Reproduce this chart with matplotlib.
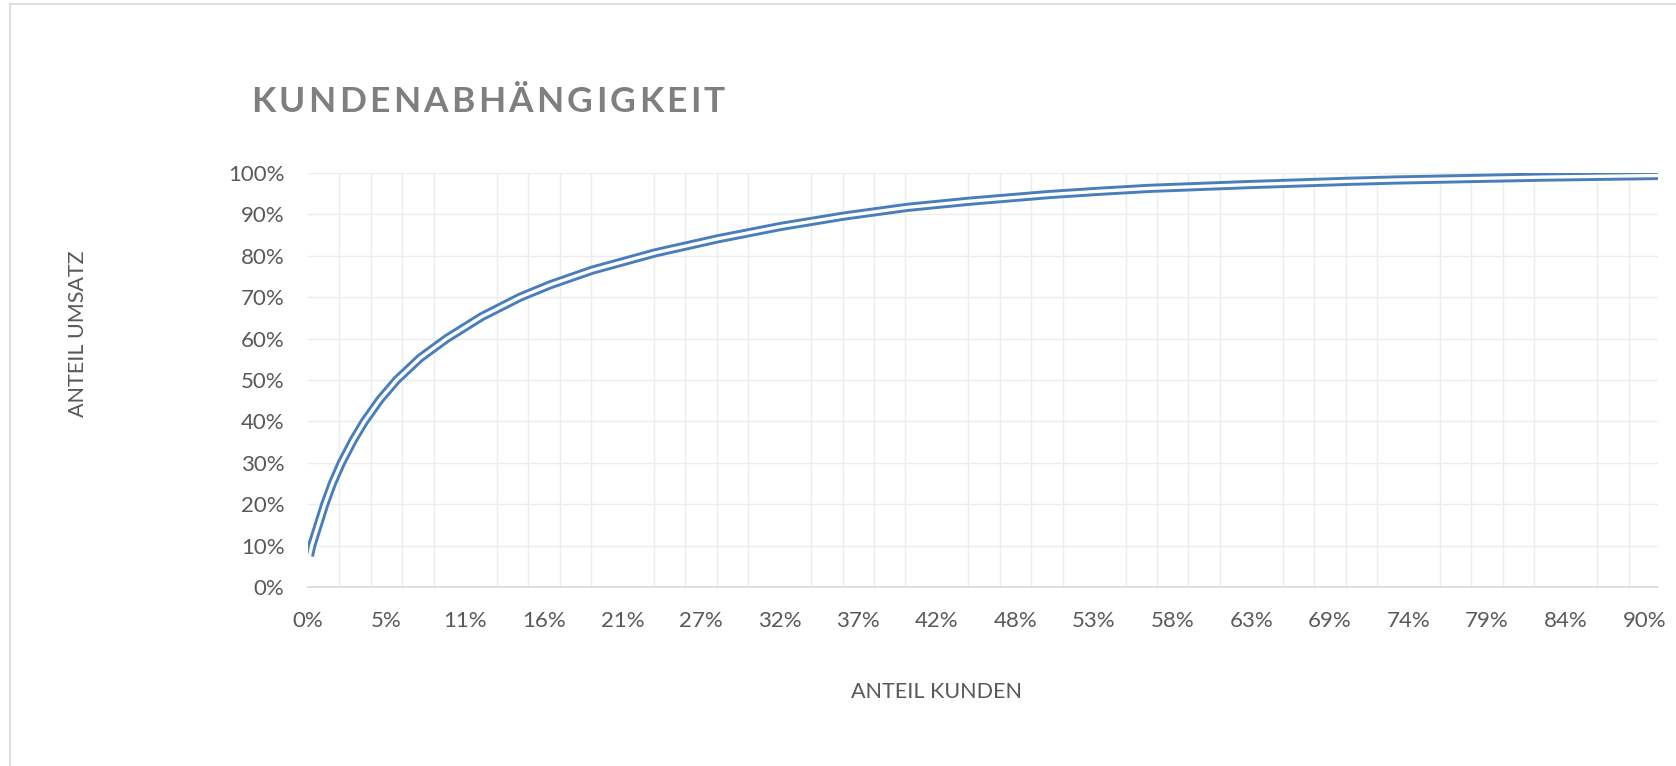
import matplotlib
matplotlib.use('Agg')
import numpy as np
import matplotlib.pyplot as plt
from matplotlib.lines import Line2D

# Anteil Kunden (%) -> Anteil Umsatz (%)
kunden = [0.1, 0.25, 1.13, 1.64, 2.25, 3.05, 3.8, 4.85, 5.97, 7.54, 9.33,
          11.69, 14.27, 16.3, 19.1, 23.35, 27.57, 31.83, 36.07,
          40.33, 44.55, 49.9, 53.3, 56.7, 63.3, 70.1, 73.1, 83.0, 90.9]
umsatz = [7.5, 10.0, 20.0, 25.0, 30.0, 35.5, 40.0, 45.3, 50.0, 55.3, 60.0,
          65.3, 70.0, 73.0, 76.5, 80.7, 84.1, 87.1, 89.6,
          91.7, 93.2, 94.8, 95.6, 96.3, 97.2, 98.0, 98.3, 99.0, 99.4]

x_labels = ['0%', '5%', '11%', '16%', '21%', '27%', '32%', '37%', '42%',
            '48%', '53%', '58%', '63%', '69%', '74%', '79%', '84%', '90%']
y_values = [0, 10, 20, 30, 40, 50, 60, 70, 80, 90, 100]

label_step = 5.29      # % customers between two category labels
x_max = 90.85

plt.rcParams['font.family'] = ['Lato', 'DejaVu Sans']

W, H = 1676, 766
fig = plt.figure(figsize=(W / 100, H / 100), dpi=100)
ax = fig.add_axes([308 / W, 1 - 587 / H, 1350 / W, 414 / H])

# double (compound) line like the Excel style
ax.plot(kunden, umsatz, color='#4a7ebb', lw=6.6, solid_capstyle='butt',
        solid_joinstyle='round', zorder=3)
ax.plot(kunden, umsatz, color='white', lw=2.4, solid_capstyle='butt',
        solid_joinstyle='round', zorder=4)

ax.set_xlim(0, x_max)
ax.set_ylim(0, 100)
ax.set_xticks([j * label_step for j in range(len(x_labels))])
ax.set_xticklabels(x_labels)
ax.set_xticks(np.arange(0, x_max, label_step / 2.5), minor=True)
ax.set_yticks(y_values)
ax.set_yticklabels([f'{v}%' for v in y_values])

ax.grid(which='minor', axis='x', color='#ececec', lw=1.0)
ax.grid(which='major', axis='y', color='#ececec', lw=1.0)
ax.set_axisbelow(True)
for s in ['top', 'right', 'left']:
    ax.spines[s].set_visible(False)
ax.spines['bottom'].set_color('#d9d9d9')
ax.spines['bottom'].set_linewidth(1.2)
ax.tick_params(which='both', length=0, labelsize=16, colors='#595959')
ax.tick_params(axis='x', pad=17)
ax.tick_params(axis='y', pad=17)

fig.text(936 / W, 1 - 692 / H, 'ANTEIL KUNDEN', ha='center', va='center',
         fontsize=15.5, color='#595959')
fig.text(78 / W, 1 - 334 / H, 'ANTEIL UMSATZ', ha='center', va='center',
         rotation=90, fontsize=15.5, color='#595959')

# chart area border
fig.add_artist(Line2D([10 / W, 1], [1 - 4 / H, 1 - 4 / H], color='#d9d9d9', lw=1.2))
fig.add_artist(Line2D([10 / W, 10 / W], [0, 1 - 4 / H], color='#d9d9d9', lw=1.2))

# spaced-out title
title = 'KUNDENABHÄNGIGKEIT'
fig.canvas.draw()
r = fig.canvas.get_renderer()
chars = [fig.text(0, 0, ch, fontsize=25.5, fontweight='bold', color='#7f7f7f',
                  va='baseline') for ch in title]
widths = [t.get_window_extent(r).width for t in chars]
gap = (474 - sum(widths)) / (len(title) - 1)
xpos = 251
for t, w in zip(chars, widths):
    t.set_position((xpos / W, 1 - 112.5 / H))
    xpos += w + gap

fig.savefig('out.png', dpi=100, facecolor='white')
